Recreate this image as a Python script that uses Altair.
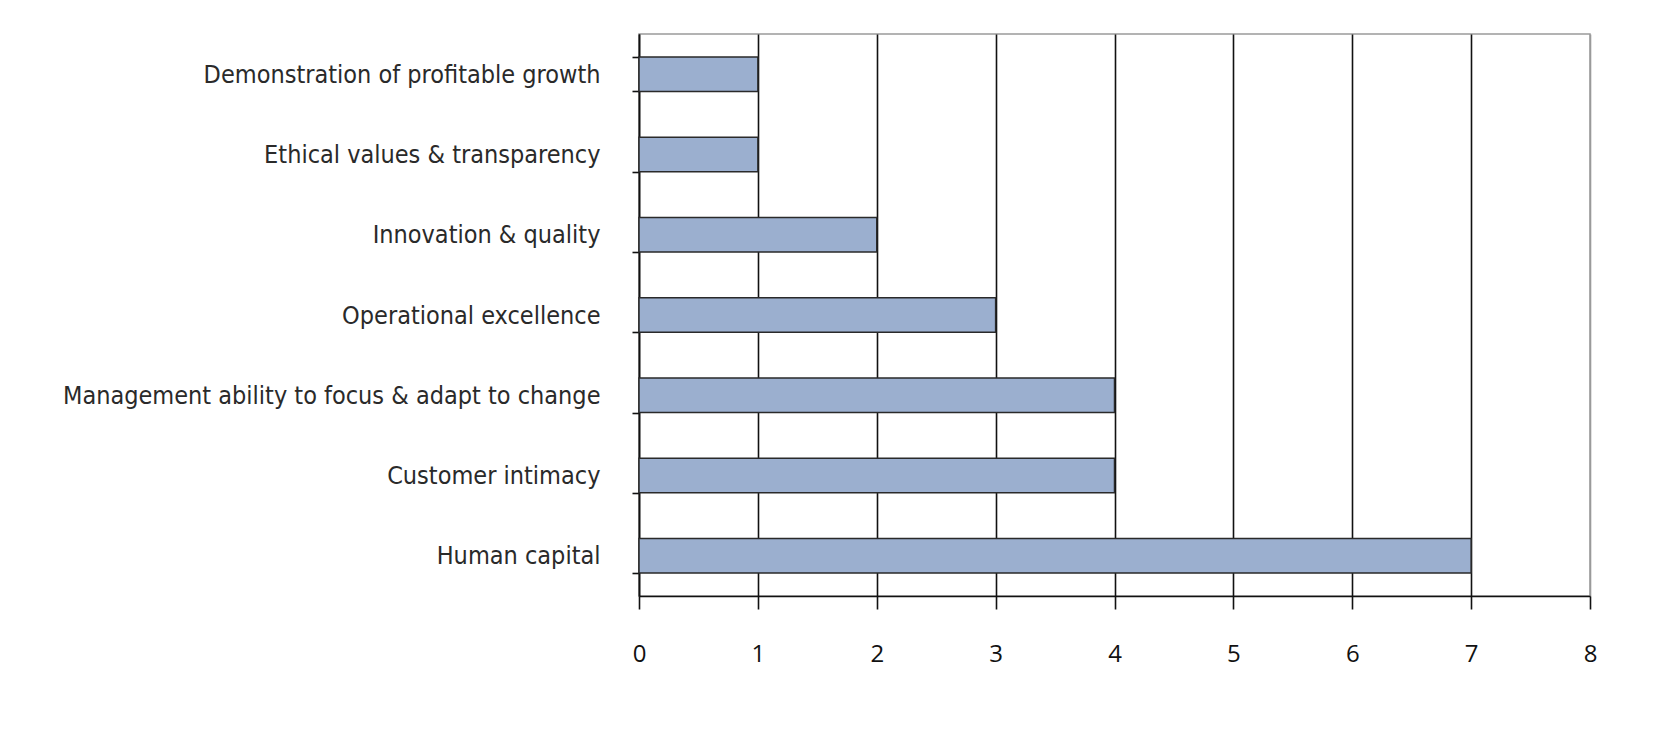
import altair as alt
import pandas as pd

categories = [
    "Demonstration of profitable growth\u00a0",
    "Ethical values & transparency",
    "Innovation & quality",
    "Operational excellence",
    "Management ability to focus & adapt to change",
    "Customer intimacy",
    "Human capital",
]
values = [1, 1, 2, 3, 4, 4, 7]
x_ticks = [0, 1, 2, 3, 4, 5, 6, 7, 8]

df = pd.DataFrame({"category": categories, "value": values})

chart = alt.Chart(df).mark_bar(
    fill="#9BAFCF", stroke="#2a2a2a", strokeWidth=1.5
).encode(
    x=alt.X(
        "value:Q",
        scale=alt.Scale(domain=[0, 8], nice=False),
        axis=alt.Axis(
            values=x_ticks, title=None, grid=True,
            gridColor={"condition": {"test": "datum.value == 8", "value": "#9a9a9a"}, "value": "#111111"},
            gridWidth=1.6, gridOpacity=1, domainColor="#111111", domainWidth=1.6,
            tickColor="#111111", tickWidth=1.6, tickSize=13, labelPadding=33,
            labelFont="Open Sans", labelFontSize=24, labelColor="#111111",
            labelFlush=False, format="d",
        ),
    ),
    y=alt.Y(
        "category:N",
        sort=categories,
        scale=alt.Scale(paddingInner=0.57, paddingOuter=0.285),
        axis=alt.Axis(
            title=None, tickBand="extent", tickSize=7, tickColor="#111111", tickWidth=1.6,
            domainColor="#111111", domainWidth=1.6, labelPadding=32,
            labelFont="DejaVu Sans Condensed", labelFontSize=25, labelColor="#2a2a2a",
            labelLimit=0,
        ),
    ),
).properties(
    width=951,
    height=562,
    autosize=alt.AutoSizeParams(type="none"),
    padding={"left": 631, "top": 26, "right": 70, "bottom": 140},
    background="white",
).configure_view(
    stroke="#9a9a9a", strokeWidth=1.5
)

chart.save("out.html", embed_options={"renderer": "svg", "actions": False})
